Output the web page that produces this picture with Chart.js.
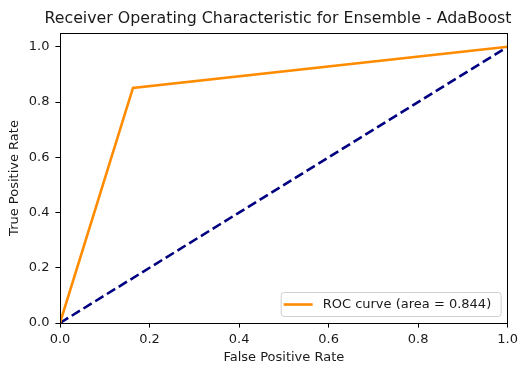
<!DOCTYPE html>
<html>
<head>
<meta charset="utf-8">
<script src="https://cdn.jsdelivr.net/npm/chart.js@4.4.0/dist/chart.umd.min.js"></script>
<style>
  html, body { margin: 0; padding: 0; background: #fff; }
  #wrap { width: 522px; height: 365px; }
</style>
</head>
<body>
<div id="wrap"><canvas id="rocChart" width="522" height="365"></canvas></div>
<script>
// data
const fpr = [0, 0.163, 1];
const tpr = [0, 0.851, 1];
const chanceX = [0, 1];
const chanceY = [0, 1];
const xTicks = [0, 0.2, 0.4, 0.6, 0.8, 1.0];
const yTicks = [0, 0.2, 0.4, 0.6, 0.8, 1.0];
const rocLabel = 'ROC curve (area = 0.844)';
const titleText = 'Receiver Operating Characteristic for Ensemble - AdaBoost';

const FONT = 'DejaVu Sans';
const TXT = '#1a1a1a';

// frame, title and legend drawn like matplotlib does
const mplDecor = {
    id: 'mplDecor',
    afterDraw(chart) {
        const ctx = chart.ctx;
        const a = chart.chartArea;
        ctx.save();
        // axes box
        ctx.strokeStyle = '#000';
        ctx.lineWidth = 1;
        ctx.strokeRect(Math.round(a.left) + 0.5, Math.round(a.top) + 0.5,
            Math.round(a.right - a.left) - 1, Math.round(a.bottom - a.top));

        // title
        ctx.fillStyle = TXT;
        ctx.font = '15.8px "' + FONT + '"';
        ctx.textAlign = 'center';
        ctx.textBaseline = 'middle';
        ctx.fillText(titleText, 278, 19);

        // legend (lower right)
        ctx.font = '13px "' + FONT + '"';
        const bw = 220, bh = 24;
        const bx = a.right - 7 - bw, by = a.bottom - 7 - bh;
        ctx.beginPath();
        ctx.roundRect(bx + 0.5, by + 0.5, bw, bh, 3);
        ctx.fillStyle = 'rgba(255,255,255,0.8)';
        ctx.fill();
        ctx.strokeStyle = '#d0d0d0';
        ctx.lineWidth = 1;
        ctx.stroke();
        ctx.beginPath();
        ctx.moveTo(bx + 3, by + bh / 2 + 0.5);
        ctx.lineTo(bx + 32, by + bh / 2 + 0.5);
        ctx.strokeStyle = '#ff8c00';
        ctx.lineWidth = 2.6;
        ctx.stroke();
        ctx.fillStyle = TXT;
        ctx.textAlign = 'left';
        ctx.fillText(rocLabel, bx + 42, by + bh / 2 + 1);
        ctx.restore();
    }
};

new Chart(document.getElementById('rocChart'), {
    type: 'line',
    data: {
        datasets: [{
            label: rocLabel,
            data: fpr.map((v, i) => ({ x: v, y: tpr[i] })),
            borderColor: '#ff8c00',
            borderWidth: 2.6,
            pointRadius: 0,
            tension: 0,
            fill: false
        }, {
            label: 'chance',
            data: chanceX.map((v, i) => ({ x: v, y: chanceY[i] })),
            borderColor: '#000080',
            borderWidth: 2.6,
            borderDash: [9.6, 4.2],
            pointRadius: 0,
            tension: 0,
            fill: false
        }]
    },
    options: {
        responsive: false,
        animation: false,
        layout: { padding: { left: 0, right: 14, top: 33, bottom: 0 } },
        plugins: {
            legend: { display: false },
            title: { display: false },
            tooltip: { enabled: false }
        },
        scales: {
            x: {
                type: 'linear',
                min: 0,
                max: 1,
                afterBuildTicks: s => { s.ticks = xTicks.map(v => ({ value: v })); },
                afterFit: s => { s.height = 42; },
                grid: { drawOnChartArea: false, color: '#000', tickLength: 4.6, tickWidth: 1 },
                border: { display: false },
                ticks: {
                    color: TXT,
                    padding: 4,
                    maxRotation: 0,
                    font: { family: FONT, size: 13 },
                    callback: v => v.toFixed(1)
                },
                title: {
                    display: true,
                    text: 'False Positive Rate',
                    color: TXT,
                    padding: { top: 0, bottom: 0 },
                    font: { family: FONT, size: 13 }
                }
            },
            y: {
                type: 'linear',
                min: 0,
                max: 1.05,
                afterBuildTicks: s => { s.ticks = yTicks.map(v => ({ value: v })); },
                afterFit: s => { s.width = 60; },
                grid: { drawOnChartArea: false, color: '#000', tickLength: 4.6, tickWidth: 1 },
                border: { display: false },
                ticks: {
                    color: TXT,
                    padding: 6,
                    font: { family: FONT, size: 13 },
                    callback: v => v.toFixed(1)
                },
                title: {
                    display: true,
                    text: 'True Positive Rate',
                    color: TXT,
                    padding: { top: 7, bottom: 0 },
                    font: { family: FONT, size: 13 }
                }
            }
        }
    },
    plugins: [mplDecor]
});
</script>
</body>
</html>
